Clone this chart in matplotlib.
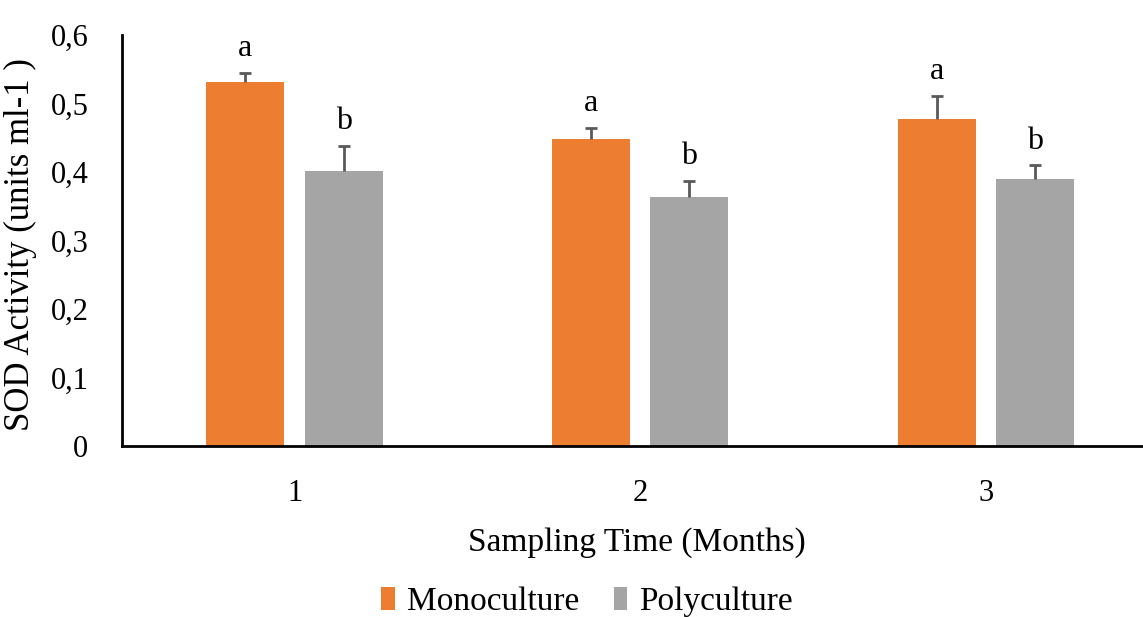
import numpy as np
import matplotlib.pyplot as plt

plt.rcParams['font.family'] = ['Liberation Serif', 'DejaVu Serif']

months = ['1', '2', '3']
mono = [0.532, 0.448, 0.478]
mono_err = [0.013, 0.017, 0.033]
poly = [0.401, 0.363, 0.390]
poly_err = [0.037, 0.024, 0.020]
mono_letters = ['a', 'a', 'a']
poly_letters = ['b', 'b', 'b']

orange = '#ED7D31'
gray = '#A5A5A5'

fig = plt.figure(figsize=(11.43, 6.17), dpi=100)
ax = fig.add_axes([0.1065, 0.277, 0.907, 0.666])

x = np.arange(len(months))
w = 0.226
off = 0.142

ax.bar(x - off, mono, w, color=orange, label='Monoculture')
ax.bar(x + off, poly, w, color=gray, label='Polyculture')

# one-sided error bars (upper only)
for xs, ys, es in [(x - off, mono, mono_err), (x + off, poly, poly_err)]:
    _, caps, _ = ax.errorbar(xs, ys, yerr=[np.zeros(3), es], fmt='none',
                             ecolor='#595959', elinewidth=2, capsize=4,
                             capthick=2)
    caps[0].set_visible(False)

for i in range(len(months)):
    ax.annotate(mono_letters[i], (x[i] - off, mono[i] + mono_err[i]),
                xytext=(0, 7), textcoords='offset points',
                ha='center', va='bottom', fontsize=23)
    ax.annotate(poly_letters[i], (x[i] + off, poly[i] + poly_err[i]),
                xytext=(0, 7), textcoords='offset points',
                ha='center', va='bottom', fontsize=23)

ax.set_xlim(-0.5, 2.5)
ax.set_ylim(0, 0.6)
ax.set_yticks(np.arange(0, 0.61, 0.1))
ax.set_yticklabels(['0', '0,1', '0,2', '0,3', '0,4', '0,5', '0,6'])
ax.set_xticks(x)
ax.set_xticklabels(months)
ax.tick_params(axis='both', length=0, labelsize=22)
ax.tick_params(axis='y', pad=24)
ax.tick_params(axis='x', pad=24)

for s in ['top', 'right']:
    ax.spines[s].set_visible(False)
ax.spines['left'].set_linewidth(2)
ax.spines['bottom'].set_linewidth(2)

ax.set_ylabel('SOD Activity (units ml-1 )', fontsize=25)
ax.yaxis.set_label_coords(-0.082, 0.49)
ax.set_xlabel('Sampling Time (Months)', fontsize=24)
ax.xaxis.set_label_coords(0.497, -0.236)
ax.xaxis.label.set_va('center')

ax.legend(loc='center', bbox_to_anchor=(0.449, -0.38), ncol=2, frameon=False,
          fontsize=24, handlelength=0.4, handleheight=0.7, handletextpad=0.36,
          columnspacing=1.05)

fig.savefig('out.png', dpi=100)
